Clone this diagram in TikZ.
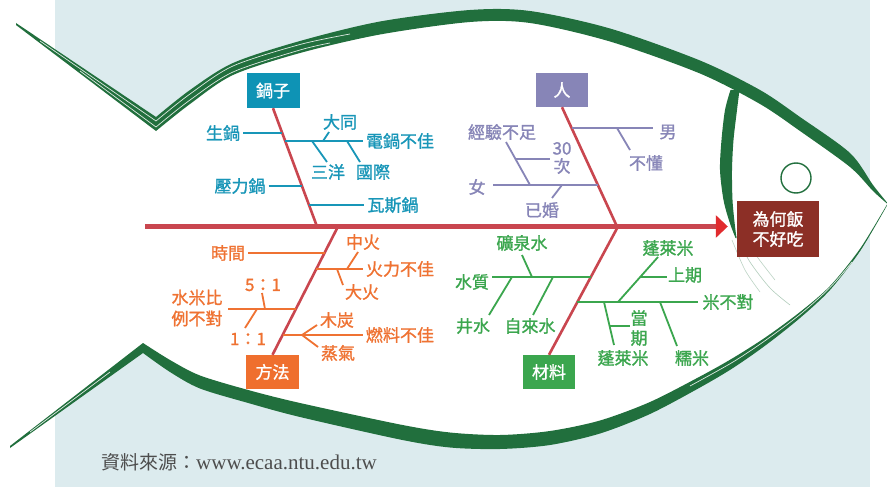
\documentclass[tikz,border=0pt]{standalone}
\usepackage{fontspec}
\setmainfont{Noto Sans CJK TC}[FakeBold=1.2]
\newfontfamily\plaincjk{Noto Sans CJK TC}
\newfontfamily\latinserif{Liberation Serif}
\usetikzlibrary{arrows.meta}

\definecolor{bgblue}{HTML}{DCEBEE}
\definecolor{fishgreen}{HTML}{216F3D}
\definecolor{potteal}{HTML}{1896B8}
\definecolor{potbox}{HTML}{0E93B5}
\definecolor{people}{HTML}{8785B7}
\definecolor{method}{HTML}{EF7232}
\definecolor{methodbox}{HTML}{EF6F2E}
\definecolor{material}{HTML}{3BA64E}
\definecolor{bonered}{HTML}{C9464F}
\definecolor{tipred}{HTML}{E12B2E}
\definecolor{resultred}{HTML}{8C2F26}
\definecolor{srcgray}{HTML}{4D4D4D}

\begin{document}
\begin{tikzpicture}[x=1pt,y=-1pt,
  lbl/.style={inner sep=3pt, align=center, font=\fontsize{17}{20}\selectfont},
  catbox/.style={minimum width=53pt, minimum height=35pt, inner sep=0pt,
                 text=white, font=\fontsize{17}{20}\selectfont},
  twig/.style={line width=1.8pt},
  bone/.style={draw=bonered, line width=2.6pt},
  spine/.style={draw=bonered, line width=4.5pt, shorten >=9pt,
                -{Triangle[length=12pt,width=22pt,color=tipred]}},
  streak/.style={draw=white, line width=0.7pt, opacity=0.85}]

\useasboundingbox (0,0) rectangle (887,487);
\fill[white] (0,0) rectangle (887,487);
\fill[bgblue] (55,0) rectangle (870,487);

% fish body and tail area
\fill[white] (16,24) -- (156,124)
  -- plot[smooth] coordinates {(156,124) (190,97) (233,69) (300,47) (380,28) (470,16) (530,17)
        (610,35) (700,67) (760,97) (800,124) (850,160) (873,188) (887,203)}
  -- plot[smooth] coordinates {(887,205) (860,250) (830,288) (800,315) (766,341) (733,363)
        (700,382) (650,408) (600,427) (550,438) (500,442) (450,440) (400,432) (300,410)
        (250,397) (200,382) (170,366) (143,348)}
  -- (10,447) -- (0,447) -- (0,24) -- cycle;

% brush stroke: upper fin and back
\fill[fishgreen] (16,23) -- (156,117)
  -- plot[smooth] coordinates {(156,117) (190,90) (233,63) (300,41) (380,21.5) (470,10) (530,11)
        (610,28.5) (700,60.5) (760,90) (800,117) (850,153) (873,185) (887,202.5)}
  -- plot[smooth] coordinates {(887,203.5) (873,191) (850,167) (800,131) (760,104) (700,73.5)
        (610,41.5) (530,23) (470,22) (380,34.5) (300,53) (233,75) (190,104) (156,131)}
  -- (16,25) -- cycle;
\draw[streak] (40,41) -- (156,121)
  -- plot[smooth] coordinates {(156,121) (190,94) (233,66) (300,44.5) (350,34)};
\draw[streak] (80,71) -- (156,127)
  -- plot[smooth] coordinates {(156,127) (190,100) (233,72) (300,50) (330,43)};

% brush stroke: lower fin and belly
\fill[fishgreen] (10,446) -- (143,343)
  -- plot[smooth] coordinates {(143,343) (170,360) (200,375.5) (250,390.5) (300,403) (400,424.5)
        (450,432.5) (500,435) (550,431) (600,420.5) (650,402) (700,376.5) (733,358) (766,337)
        (800,312) (830,286) (860,248.75) (887,204.5)}
  -- plot[smooth] coordinates {(887,205.5) (860,251.25) (830,290) (800,318) (766,345) (733,368)
        (700,387.5) (650,414) (600,433.5) (550,445) (500,449) (450,447.5) (400,439.5) (300,417)
        (250,403.5) (200,388.5) (170,372) (143,353)}
  -- (10,448) -- cycle;
\draw[streak] (30,432) -- (110,372);
\draw[streak] plot[smooth] coordinates {(690,386) (733,362) (766,340) (800,314.5) (830,287.5) (852,262)};

% gill
\fill[fishgreen]
  plot[smooth] coordinates {(730.5,90) (725,110) (721.5,140) (720,170) (723.5,200) (729.5,222) (735.5,238)}
  -- plot[smooth] coordinates {(736.5,238) (734.5,222) (732.5,200) (732,170) (733.5,140) (737,110) (739.5,90)}
  -- cycle;
\draw[fishgreen, opacity=.35, line width=.6pt] plot[smooth] coordinates {(736,236) (750,262) (770,288) (790,305)};
\draw[fishgreen, opacity=.3, line width=.6pt] plot[smooth] coordinates {(742,235) (758,258) (775,280)};
\draw[fishgreen, opacity=.3, line width=.6pt] plot[smooth] coordinates {(732,240) (745,270) (760,292)};

% eye
\draw[fishgreen, line width=1.4pt] (796,178) circle[radius=15];

% head box, category boxes
\node[fill=resultred, minimum width=82pt, minimum height=56pt, inner sep=0pt, text=white,
      align=center, font=\fontsize{17}{20}\selectfont] (result) at (778,229) {為何飯\\不好吃};
\node[catbox, fill=potbox]    (pot)      at (273,90.5) {鍋子};
\node[catbox, fill=people, minimum width=52pt, minimum height=34pt] (person) at (562,90) {人};
\node[catbox, fill=methodbox, minimum height=34pt] (method) at (272.5,372) {方法};
\node[catbox, fill=material, minimum width=52pt, minimum height=34pt] (stuff) at (549,372) {材料};

% spine and main bones
\coordinate (tail) at (145,226.5);
\coordinate (s1) at (317,226.5);
\coordinate (s2) at (617,226.5);
\coordinate (s3) at (338,226.5);
\coordinate (s4) at (618,226.5);
\draw[spine] (tail) -- (tail -| result.west);
\draw[bone] (pot.south) -- (s1);
\draw[bone] (person.south) -- (s2);
\draw[bone] (method.north) -- (s3);
\draw[bone] (stuff.north) -- (s4);

% pot causes
\begin{scope}[potteal]
  \node[lbl] (raw)      at (223,133) {生鍋};
  \node[lbl] (cooker)   at (400,141) {電鍋不佳};
  \node[lbl] (tatung)   at (340,122) {大同};
  \node[lbl] (sanyo)    at (328,172) {三洋};
  \node[lbl] (natl)     at (373,172) {國際};
  \node[lbl] (pressure) at (240,186) {壓力鍋};
  \node[lbl] (gas)      at (393,205) {瓦斯鍋};
  \coordinate (j11) at (282.3,133);
  \coordinate (j12) at (285.3,141);
  \coordinate (j13) at (302.1,186);
  \coordinate (j14) at (309.2,205);
  \coordinate (k1) at (323,141);  \coordinate (e1) at (329,132);
  \coordinate (k2) at (312,141);  \coordinate (e2) at (327,162);
  \coordinate (k3) at (347,141);  \coordinate (e3) at (360,162);
  \draw[twig] (raw.east) -- (j11);
  \draw[twig] (j12) -- (cooker.west);
  \draw[twig] (k1) -- (e1);
  \draw[twig] (k2) -- (e2);
  \draw[twig] (k3) -- (e3);
  \draw[twig] (pressure.east) -- (j13);
  \draw[twig] (j14) -- (gas.west);
\end{scope}

% people causes
\begin{scope}[people]
  \node[lbl] (male)    at (668,132) {男};
  \node[lbl] (clueless) at (646,163) {不懂};
  \node[lbl] (female)  at (477,187) {女};
  \node[lbl] (novice)  at (502,132) {經驗不足};
  \node[lbl, font=\fontsize{17}{18}\selectfont] (thirty) at (562,158) {30\\次};
  \node[lbl] (married) at (542,210) {已婚};
  \coordinate (j21) at (571.7,128);  \coordinate (e21) at (653,128);
  \coordinate (k21) at (617,128);    \coordinate (e22) at (630,150);
  \coordinate (e23) at (493,185);    \coordinate (j22) at (598,185);
  \coordinate (e24) at (506,142);    \coordinate (k22) at (530,185);
  \coordinate (k23) at (515.5,159);  \coordinate (e25) at (550,159);
  \coordinate (k24) at (562,185);    \coordinate (e26) at (552,198);
  \draw[twig] (j21) -- (e21);
  \draw[twig] (k21) -- (e22);
  \draw[twig] (e23) -- (j22);
  \draw[twig] (e24) -- (k22);
  \draw[twig] (k23) -- (e25);
  \draw[twig] (k24) -- (e26);
\end{scope}

% method causes
\begin{scope}[method]
  \node[lbl] (timing)  at (228,253) {時間};
  \node[lbl] (heat)    at (400,269) {火力不佳};
  \node[lbl] (medium)  at (363,242) {中火};
  \node[lbl] (high)    at (362,292) {大火};
  \node[lbl, font=\fontsize{17}{21}\selectfont] (ratio) at (197,308) {水米比\\例不對};
  \node[lbl] (fivetoone) at (263,285) {5：1};
  \node[lbl] (onetoone)  at (248,339) {1：1};
  \node[lbl] (fuel)    at (400,335) {燃料不佳};
  \node[lbl] (coal)    at (337,320) {木炭};
  \node[lbl] (steam)   at (338,353) {蒸氣};
  \coordinate (j31) at (324.8,253);
  \coordinate (j32) at (316.2,269);
  \coordinate (j33) at (295.9,309);  \coordinate (e33) at (228,309);
  \coordinate (j34) at (282.7,335);
  \coordinate (k31) at (347,269);  \coordinate (e31) at (358,252);
  \coordinate (k32) at (337,269);  \coordinate (e32) at (343,285);
  \coordinate (k33) at (265,309);  \coordinate (e34) at (262,293);
  \coordinate (k34) at (257,309);  \coordinate (e35) at (245,328);
  \coordinate (k35) at (302,335);  \coordinate (e36) at (317,325);
  \coordinate (e37) at (318,347);
  \draw[twig] (timing.east) -- (j31);
  \draw[twig] (j32) -- (heat.west);
  \draw[twig] (k31) -- (e31);
  \draw[twig] (k32) -- (e32);
  \draw[twig] (e33) -- (j33);
  \draw[twig] (k33) -- (e34);
  \draw[twig] (k34) -- (e35);
  \draw[twig] (j34) -- (fuel.west);
  \draw[twig] (k35) -- (e36);
  \draw[twig] (k35) -- (e37);
\end{scope}

% material causes
\begin{scope}[material]
  \node[lbl] (water)   at (472,282) {水質};
  \node[lbl] (mineral) at (522,243) {礦泉水};
  \node[lbl] (well)    at (473,326) {井水};
  \node[lbl] (tap)     at (530,326) {自來水};
  \node[lbl] (rice)    at (728,302) {米不對};
  \node[lbl] (penglai) at (668,248) {蓬萊米};
  \node[lbl] (lastcrop) at (685,275) {上期};
  \node[lbl] (penglaib) at (623,358) {蓬萊米};
  \node[lbl] (thiscrop) at (639,328) {當\\期};
  \node[lbl] (glutin)  at (692,358) {糯米};
  \coordinate (e41) at (492,277);  \coordinate (j41) at (590.7,277);
  \coordinate (j42) at (577.4,302); \coordinate (e42) at (698,302);
  \coordinate (k41) at (532,277);  \coordinate (e43) at (522,255);
  \coordinate (k42) at (512,277);  \coordinate (e44) at (489,315);
  \coordinate (k43) at (553,277);  \coordinate (e45) at (533,315);
  \coordinate (k44) at (618,302);  \coordinate (e46) at (658,257);
  \coordinate (k45) at (640,277);  \coordinate (e47) at (667,277);
  \coordinate (k46) at (604,302);  \coordinate (e48) at (614,345);
  \coordinate (k47) at (609.6,326); \coordinate (e49) at (630,326);
  \coordinate (k48) at (660,302);  \coordinate (e50) at (677,346);
  \draw[twig] (e41) -- (j41);
  \draw[twig] (j42) -- (e42);
  \draw[twig] (k41) -- (e43);
  \draw[twig] (k42) -- (e44);
  \draw[twig] (k43) -- (e45);
  \draw[twig] (k44) -- (e46);
  \draw[twig] (k45) -- (e47);
  \draw[twig] (k46) -- (e48);
  \draw[twig] (k47) -- (e49);
  \draw[twig] (k48) -- (e50);
\end{scope}

% source line
\node[anchor=west, inner sep=0pt, text=srcgray] (source) at (101,462)
  {{\plaincjk\fontsize{19}{22}\selectfont 資料來源：}{\latinserif\fontsize{21}{22}\selectfont www.ecaa.ntu.edu.tw}};
\end{tikzpicture}
\end{document}
